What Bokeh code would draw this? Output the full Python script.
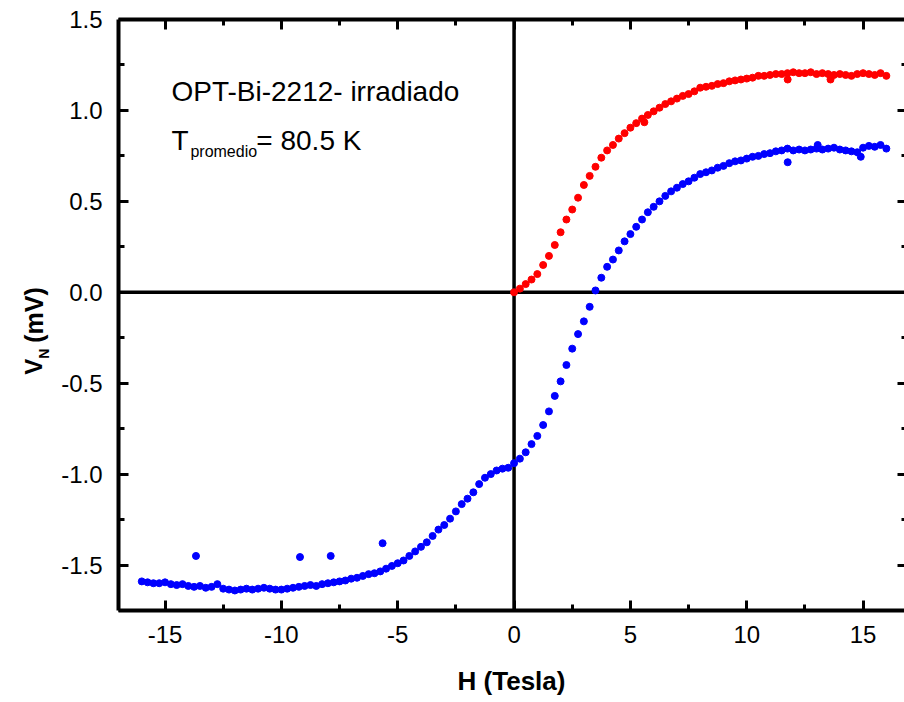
import math
from bokeh.plotting import figure
from bokeh.layouts import row
from bokeh.models import Range1d, LinearAxis, FixedTicker, Span, Label
from bokeh.core.properties import value
from bokeh.embed import file_html
from bokeh.resources import INLINE

# ---------------- data ----------------
H_red = [0.0, 0.25, 0.5, 0.75, 1.0, 1.25, 1.5, 1.75,
         2.0, 2.25, 2.5, 2.75, 3.0, 3.25, 3.5, 3.75,
         4.0, 4.25, 4.5, 4.75, 5.0, 5.25, 5.5, 5.75,
         6.0, 6.25, 6.5, 6.75, 7.0, 7.25, 7.5, 7.75,
         8.0, 8.25, 8.5, 8.75, 9.0, 9.25, 9.5, 9.75,
         10.0, 10.25, 10.5, 10.75, 11.0, 11.25, 11.5, 11.75,
         12.0, 12.25, 12.5, 12.75, 13.0, 13.25, 13.5, 13.75,
         14.0, 14.25, 14.5, 14.75, 15.0, 15.25, 15.5, 15.75,
         16.0]
V_red = [0.00, 0.02, 0.045, 0.07, 0.10, 0.15, 0.20, 0.26,
         0.33, 0.40, 0.455, 0.52, 0.59, 0.64, 0.69, 0.74,
         0.78, 0.81, 0.845, 0.875, 0.905, 0.93, 0.955, 0.975,
         0.995, 1.015, 1.035, 1.05, 1.065, 1.08, 1.09, 1.105,
         1.125, 1.13, 1.135, 1.145, 1.15, 1.16, 1.165, 1.17,
         1.175, 1.18, 1.19, 1.19, 1.195, 1.20, 1.20, 1.205,
         1.21, 1.205, 1.205, 1.21, 1.20, 1.205, 1.20, 1.195,
         1.20, 1.195, 1.19, 1.20, 1.205, 1.20, 1.195, 1.205,
         1.19]
H_red_extra = [11.76, 13.6, 5.6]
V_red_extra = [1.17, 1.17, 0.935]

H_blue = [-16.0, -15.75, -15.5, -15.25, -15.0, -14.75, -14.5, -14.25,
          -14.0, -13.75, -13.5, -13.25, -13.0, -12.75, -12.5, -12.25,
          -12.0, -11.75, -11.5, -11.25, -11.0, -10.75, -10.5, -10.25,
          -10.0, -9.75, -9.5, -9.25, -9.0, -8.75, -8.5, -8.25,
          -8.0, -7.75, -7.5, -7.25, -7.0, -6.75, -6.5, -6.25,
          -6.0, -5.75, -5.5, -5.25, -5.0, -4.75, -4.5, -4.25,
          -4.0, -3.75, -3.5, -3.25, -3.0, -2.75, -2.5, -2.25,
          -2.0, -1.75, -1.5, -1.25, -1.0, -0.75, -0.5, -0.25,
          0.0, 0.25, 0.5, 0.75, 1.0, 1.25, 1.5, 1.75,
          2.0, 2.25, 2.5, 2.75, 3.0, 3.25, 3.5, 3.75,
          4.0, 4.25, 4.5, 4.75, 5.0, 5.25, 5.5, 5.75,
          6.0, 6.25, 6.5, 6.75, 7.0, 7.25, 7.5, 7.75,
          8.0, 8.25, 8.5, 8.75, 9.0, 9.25, 9.5, 9.75,
          10.0, 10.25, 10.5, 10.75, 11.0, 11.25, 11.5, 11.75,
          12.0, 12.25, 12.5, 12.75, 13.0, 13.25, 13.5, 13.75,
          14.0, 14.25, 14.5, 14.75, 15.0, 15.25, 15.5, 15.75,
          16.0]
V_blue = [-1.59, -1.595, -1.60, -1.60, -1.595, -1.605, -1.61, -1.605,
          -1.615, -1.62, -1.615, -1.625, -1.62, -1.605, -1.63, -1.635,
          -1.64, -1.635, -1.63, -1.635, -1.63, -1.625, -1.63, -1.635,
          -1.635, -1.63, -1.625, -1.62, -1.615, -1.61, -1.615, -1.605,
          -1.60, -1.595, -1.59, -1.585, -1.575, -1.57, -1.56, -1.55,
          -1.545, -1.535, -1.52, -1.505, -1.49, -1.475, -1.45, -1.425,
          -1.40, -1.375, -1.34, -1.305, -1.28, -1.245, -1.205, -1.165,
          -1.135, -1.10, -1.055, -1.02, -1.00, -0.98, -0.97, -0.965,
          -0.94, -0.915, -0.88, -0.835, -0.79, -0.73, -0.655, -0.57,
          -0.49, -0.40, -0.31, -0.23, -0.16, -0.08, 0.01, 0.08,
          0.14, 0.18, 0.23, 0.28, 0.32, 0.36, 0.40, 0.44,
          0.47, 0.50, 0.53, 0.555, 0.575, 0.595, 0.61, 0.63,
          0.65, 0.66, 0.67, 0.685, 0.695, 0.71, 0.72, 0.725,
          0.735, 0.745, 0.75, 0.76, 0.765, 0.775, 0.78, 0.79,
          0.78, 0.785, 0.78, 0.785, 0.79, 0.785, 0.79, 0.795,
          0.785, 0.78, 0.775, 0.77, 0.795, 0.805, 0.80, 0.81,
          0.79]
H_blue_extra = [-13.67, -9.2, -7.88, -5.65, 11.76, 14.9, 13.05]
V_blue_extra = [-1.45, -1.456, -1.45, -1.38, 0.715, 0.745, 0.81]

x_ticks = [-15, -10, -5, 0, 5, 10, 15]
x_tick_labels = ["-15", "-10", "-5", "0", "5", "10", "15"]
x_minor = [-17.5, -12.5, -7.5, -2.5, 2.5, 7.5, 12.5, 17.5]
y_ticks = [-1.5, -1.0, -0.5, 0.0, 0.5, 1.0, 1.5]
y_tick_labels = ["-1.5", "-1.0", "-0.5", "0.0", "0.5", "1.0", "1.5"]
y_minor = [-1.75, -1.25, -0.75, -0.25, 0.25, 0.75, 1.25]

x_title = "H (Tesla)"
y_title_parts = ["V", "N", "(mV)"]
sample_text = "OPT-Bi-2212- irradiado"
temp_parts = ["T", "promedio", "= 80.5 K"]

# ---------------- layout ----------------
W, HGT = 904, 702
STRIP = 58                       # narrow strip holding the rotated y title
LEFT, RIGHT, TOP, BOTTOM = 117, 904, 19, 610
X0, X1 = -17.0, 16.78
Y0, Y1 = -1.75, 1.5
FONT = "Liberation Sans"


def dx(px):
    return X0 + (px - LEFT) / (RIGHT - LEFT) * (X1 - X0)


def dy(py):
    return Y1 - (py - TOP) / (BOTTOM - TOP) * (Y1 - Y0)


# ---- strip figure with the y-axis title (V_N (mV)) ----
fa = figure(width=STRIP, height=HGT, x_range=Range1d(0, STRIP), y_range=Range1d(0, HGT),
            output_backend="svg", toolbar_location=None,
            x_axis_type=None, y_axis_type=None,
            min_border_left=0, min_border_right=0, min_border_top=0, min_border_bottom=0)
fa.outline_line_color = None
fa.grid.visible = False
ang = math.pi / 2
fa.text(x=[33], y=[HGT - 422], text=[y_title_parts[0]], angle=ang,
        text_font=value(FONT), text_font_size="24px", text_font_style="bold",
        text_color="black", text_align="left", text_baseline="alphabetic")
fa.text(x=[43], y=[HGT - 403], text=[y_title_parts[1]], angle=ang,
        text_font=value(FONT), text_font_size="14px", text_font_style="bold",
        text_color="black", text_align="left", text_baseline="alphabetic")
fa.text(x=[33], y=[HGT - 384], text=[y_title_parts[2]], angle=ang,
        text_font=value(FONT), text_font_size="25px", text_font_style="bold",
        text_color="black", text_align="left", text_baseline="alphabetic")

# ---- main figure ----
p = figure(width=W - STRIP, height=HGT, x_range=Range1d(X0, X1), y_range=Range1d(Y0, Y1),
           output_backend="svg", toolbar_location=None,
           min_border_left=LEFT - STRIP, min_border_right=W - RIGHT,
           min_border_top=TOP, min_border_bottom=HGT - BOTTOM)
p.xgrid.visible = False
p.ygrid.visible = False
p.outline_line_color = None
p.background_fill_color = "white"
p.border_fill_color = "white"


def style_ticks(ax, line=True):
    ax.axis_line_width = 4
    ax.axis_line_color = "black" if line else None
    ax.major_tick_out = 0
    ax.minor_tick_out = 0
    ax.major_tick_line_width = 3
    ax.minor_tick_line_width = 3
    ax.major_tick_line_color = "black"
    ax.minor_tick_line_color = "black"


xb = p.xaxis[0]
xb.ticker = FixedTicker(ticks=x_ticks, minor_ticks=x_minor)
xb.major_label_overrides = {t: s for t, s in zip(x_ticks, x_tick_labels)}
style_ticks(xb)
xb.major_tick_in = 10
xb.minor_tick_in = 6
xb.major_label_text_font = FONT
xb.major_label_text_font_size = "24px"
xb.major_label_text_color = "black"
xb.major_label_standoff = 15
xb.axis_label = x_title
xb.axis_label_text_font = FONT
xb.axis_label_text_font_size = "26px"
xb.axis_label_text_font_style = "bold"
xb.axis_label_text_color = "black"
xb.axis_label_standoff = 20

yl = p.yaxis[0]
yl.ticker = FixedTicker(ticks=y_ticks, minor_ticks=y_minor)
yl.major_label_overrides = {t: s for t, s in zip(y_ticks, y_tick_labels)}
style_ticks(yl)
yl.major_tick_in = 10
yl.minor_tick_in = 6
yl.major_label_text_font = FONT
yl.major_label_text_font_size = "24px"
yl.major_label_text_color = "black"
yl.major_label_standoff = 16

# top side: spine + ticks (no labels: positions given as minor ticks only)
xt1 = LinearAxis(ticker=FixedTicker(ticks=[], minor_ticks=x_ticks))
style_ticks(xt1)
xt1.minor_tick_in = 10
p.add_layout(xt1, "above")
xt2 = LinearAxis(ticker=FixedTicker(ticks=[], minor_ticks=x_minor))
style_ticks(xt2, line=False)
xt2.minor_tick_in = 6
p.add_layout(xt2, "above")

# right side: ticks only (spine lies just beyond the picture edge)
yr1 = LinearAxis(ticker=FixedTicker(ticks=[], minor_ticks=y_ticks))
style_ticks(yr1, line=False)
yr1.minor_tick_in = 7
p.add_layout(yr1, "right")
yr2 = LinearAxis(ticker=FixedTicker(ticks=[], minor_ticks=y_minor))
style_ticks(yr2, line=False)
yr2.minor_tick_in = 3
p.add_layout(yr2, "right")

# zero lines
p.add_layout(Span(location=0, dimension="height", line_color="black",
                  line_width=3.5, level="underlay"))
p.add_layout(Span(location=0, dimension="width", line_color="black",
                  line_width=3.5, level="underlay"))

# data
MS = 7
p.scatter(H_blue, V_blue, size=MS, fill_color="#0000ff", line_color="#0000ff")
p.scatter(H_blue_extra, V_blue_extra, size=MS, fill_color="#0000ff", line_color="#0000ff")
p.scatter(H_red, V_red, size=MS, fill_color="#ff0000", line_color="#ff0000")
p.scatter(H_red_extra, V_red_extra, size=MS, fill_color="#ff0000", line_color="#ff0000")

# in-plot annotations
p.add_layout(Label(x=dx(170), y=dy(91), text=sample_text, text_font=FONT,
                   text_font_size="28px", text_color="black",
                   text_align="left", text_baseline="alphabetic"))
p.add_layout(Label(x=dx(170), y=dy(140), text=temp_parts[0], text_font=FONT,
                   text_font_size="28px", text_color="black",
                   text_align="left", text_baseline="alphabetic"))
p.add_layout(Label(x=dx(189), y=dy(151), text=temp_parts[1], text_font=FONT,
                   text_font_size="16px", text_color="black",
                   text_align="left", text_baseline="alphabetic"))
p.add_layout(Label(x=dx(255), y=dy(140), text=temp_parts[2], text_font=FONT,
                   text_font_size="28px", text_color="black",
                   text_align="left", text_baseline="alphabetic"))

layout = row(fa, p, spacing=0)
open("out.html", "w").write(file_html(layout, INLINE))
